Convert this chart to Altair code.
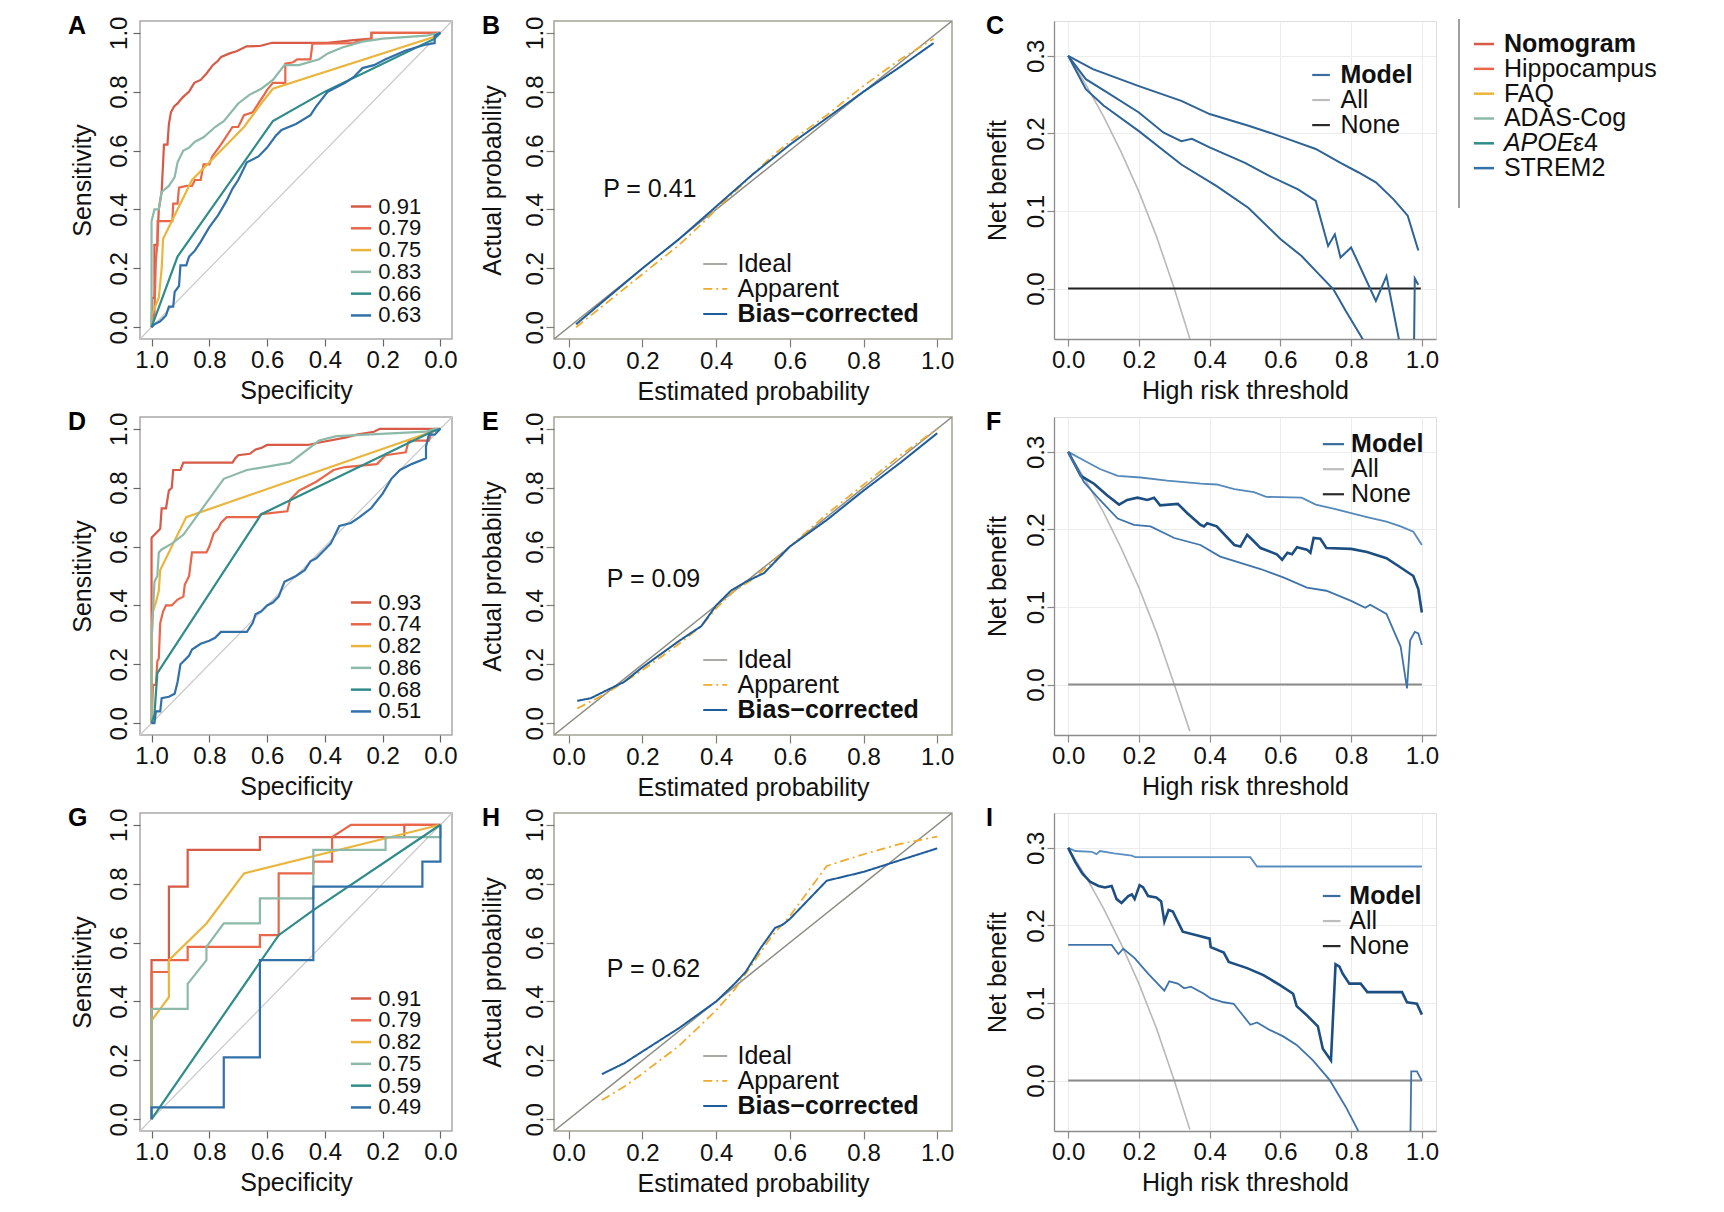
import altair as alt
import pandas as pd

FONT = "Liberation Sans"

# ---------------- shared categories ----------------
MODELS = ["Nomogram", "Hippocampus", "FAQ", "ADAS-Cog", "APOEε4", "STREM2"]
MODEL_COLORS = ["#D65A46", "#E8674A", "#EAB53C", "#8DB9A8", "#2F8C89", "#3270A8"]

AUC_A = ["0.91", "0.79", "0.75", "0.83", "0.66", "0.63"]
AUC_D = ["0.93", "0.74", "0.82", "0.86", "0.68", "0.51"]
AUC_G = ["0.91", "0.79", "0.82", "0.75", "0.59", "0.49"]

# ---------------- ROC curves: (specificity, sensitivity) ----------------
A_NOM = [(1.0, 0.0), (0.998, 0.10), (0.99, 0.10), (0.99, 0.28), (0.98, 0.28), (0.975, 0.40),
         (0.965, 0.46), (0.957, 0.62), (0.945, 0.62), (0.94, 0.69), (0.933, 0.73), (0.922, 0.75),
         (0.91, 0.76), (0.893, 0.78), (0.87, 0.80), (0.852, 0.83), (0.83, 0.84), (0.811, 0.86),
         (0.788, 0.89), (0.77, 0.905), (0.759, 0.918), (0.73, 0.93), (0.706, 0.937), (0.671, 0.954),
         (0.625, 0.955), (0.583, 0.966), (0.391, 0.966), (0.30, 0.975), (0.239, 0.98), (0.239, 1.0),
         (0.0, 1.0)]
A_HIP = [(1.0, 0.0), (0.99, 0.05), (0.985, 0.23), (0.98, 0.28), (0.979, 0.36), (0.928, 0.36),
         (0.925, 0.42), (0.91, 0.42), (0.905, 0.474), (0.88, 0.48), (0.86, 0.48), (0.85, 0.50),
         (0.83, 0.50), (0.82, 0.553), (0.80, 0.553), (0.79, 0.58), (0.76, 0.62), (0.74, 0.65),
         (0.72, 0.68), (0.70, 0.68), (0.68, 0.72), (0.65, 0.73), (0.63, 0.76), (0.61, 0.79),
         (0.60, 0.806), (0.58, 0.83), (0.537, 0.83), (0.537, 0.895), (0.51, 0.90), (0.496, 0.91),
         (0.45, 0.91), (0.443, 0.963), (0.30, 0.965), (0.286, 0.97), (0.239, 0.98), (0.239, 1.0),
         (0.0, 1.0)]
A_FAQ = [(1.0, 0.0), (1.0, 0.04), (0.975, 0.10), (0.965, 0.20), (0.96, 0.30), (0.93, 0.36),
         (0.86, 0.50), (0.80, 0.56), (0.74, 0.62), (0.68, 0.68), (0.62, 0.76), (0.58, 0.81),
         (0.01, 0.99), (0.0, 1.0)]
A_ADAS = [(1.0, 0.0), (1.0, 0.36), (0.99, 0.40), (0.975, 0.40), (0.965, 0.46), (0.94, 0.48),
          (0.92, 0.51), (0.91, 0.56), (0.89, 0.60), (0.87, 0.61), (0.85, 0.63), (0.82, 0.645),
          (0.78, 0.68), (0.75, 0.70), (0.70, 0.76), (0.66, 0.79), (0.62, 0.81), (0.58, 0.84),
          (0.54, 0.89), (0.49, 0.89), (0.42, 0.91), (0.39, 0.93), (0.34, 0.95), (0.27, 0.97),
          (0.20, 0.98), (0.05, 0.99), (0.0, 1.0)]
A_APOE = [(1.0, 0.0), (0.97, 0.08), (0.91, 0.24), (0.58, 0.70), (0.40, 0.80), (0.02, 0.98), (0.0, 1.0)]
A_STREM2 = [(1.0, 0.0), (0.99, 0.01), (0.97, 0.02), (0.95, 0.04), (0.94, 0.07), (0.925, 0.07),
            (0.92, 0.12), (0.905, 0.14), (0.90, 0.21), (0.88, 0.21), (0.87, 0.24), (0.85, 0.26),
            (0.83, 0.29), (0.80, 0.34), (0.77, 0.38), (0.74, 0.43), (0.72, 0.47), (0.70, 0.50),
            (0.67, 0.56), (0.63, 0.58), (0.60, 0.61), (0.57, 0.65), (0.55, 0.67), (0.50, 0.69),
            (0.45, 0.72), (0.43, 0.75), (0.39, 0.80), (0.33, 0.83), (0.30, 0.85), (0.27, 0.88),
            (0.23, 0.89), (0.19, 0.91), (0.12, 0.94), (0.05, 0.96), (0.02, 0.965), (0.02, 0.99),
            (0.0, 1.0)]

D_NOM = [(1.0, 0.0), (1.0, 0.63), (0.99, 0.64), (0.98, 0.65), (0.97, 0.66), (0.965, 0.73),
         (0.95, 0.73), (0.94, 0.79), (0.93, 0.80), (0.925, 0.86), (0.90, 0.86), (0.89, 0.885),
         (0.72, 0.885), (0.71, 0.90), (0.70, 0.91), (0.66, 0.915), (0.64, 0.93), (0.62, 0.935),
         (0.60, 0.945), (0.46, 0.945), (0.41, 0.955), (0.33, 0.97), (0.29, 0.98), (0.23, 0.99),
         (0.21, 1.0), (0.0, 1.0)]
D_HIP = [(1.0, 0.0), (0.995, 0.13), (0.985, 0.13), (0.98, 0.21), (0.975, 0.22), (0.97, 0.34),
         (0.96, 0.38), (0.95, 0.40), (0.93, 0.40), (0.91, 0.42), (0.89, 0.43), (0.885, 0.47),
         (0.87, 0.50), (0.86, 0.58), (0.81, 0.58), (0.80, 0.60), (0.785, 0.645), (0.77, 0.66),
         (0.76, 0.68), (0.74, 0.70), (0.63, 0.70), (0.62, 0.71), (0.53, 0.72), (0.52, 0.76),
         (0.49, 0.79), (0.47, 0.80), (0.43, 0.82), (0.40, 0.84), (0.37, 0.86), (0.33, 0.87),
         (0.22, 0.88), (0.19, 0.91), (0.12, 0.92), (0.11, 0.96), (0.04, 0.96), (0.03, 0.99),
         (0.0, 1.0)]
D_FAQ = [(1.0, 0.0), (1.0, 0.28), (0.995, 0.38), (0.985, 0.41), (0.975, 0.45), (0.97, 0.52),
         (0.88, 0.70), (0.0, 1.0)]
D_ADAS = [(1.0, 0.0), (1.0, 0.28), (0.99, 0.48), (0.98, 0.50), (0.975, 0.58), (0.965, 0.59),
          (0.93, 0.61), (0.89, 0.64), (0.75, 0.83), (0.67, 0.86), (0.52, 0.885), (0.42, 0.96),
          (0.36, 0.975), (0.05, 0.99), (0.02, 1.0), (0.0, 1.0)]
D_APOE = [(1.0, 0.0), (0.99, 0.03), (0.98, 0.17), (0.62, 0.71), (0.03, 0.99), (0.0, 1.0)]
D_STREM2 = [(1.0, 0.0), (0.99, 0.0), (0.985, 0.04), (0.97, 0.04), (0.965, 0.085), (0.94, 0.09),
            (0.92, 0.10), (0.91, 0.14), (0.90, 0.20), (0.885, 0.215), (0.87, 0.23), (0.86, 0.25),
            (0.83, 0.27), (0.80, 0.28), (0.78, 0.29), (0.76, 0.31), (0.67, 0.31), (0.65, 0.34),
            (0.64, 0.37), (0.62, 0.38), (0.60, 0.40), (0.58, 0.41), (0.56, 0.43), (0.54, 0.48),
            (0.50, 0.50), (0.47, 0.52), (0.45, 0.55), (0.43, 0.56), (0.40, 0.59), (0.38, 0.61),
            (0.35, 0.67), (0.31, 0.68), (0.28, 0.70), (0.24, 0.73), (0.20, 0.78), (0.17, 0.83),
            (0.14, 0.86), (0.10, 0.88), (0.05, 0.90), (0.05, 0.94), (0.04, 0.98), (0.02, 0.98),
            (0.01, 0.99), (0.0, 1.0)]

G_NOM = [(1.0, 0.0), (1.0, 0.54), (0.94, 0.54), (0.94, 0.79), (0.875, 0.79), (0.875, 0.915),
         (0.625, 0.915), (0.625, 0.958), (0.125, 0.958), (0.125, 1.0), (0.0, 1.0)]
G_HIP = [(1.0, 0.0), (1.0, 0.50), (0.94, 0.50), (0.94, 0.54), (0.875, 0.54), (0.875, 0.585),
         (0.625, 0.585), (0.625, 0.625), (0.56, 0.625), (0.56, 0.835), (0.44, 0.835), (0.44, 0.875),
         (0.375, 0.875), (0.375, 0.958), (0.31, 1.0), (0.0, 1.0)]
G_FAQ = [(1.0, 0.0), (1.0, 0.335), (0.94, 0.415), (0.94, 0.54), (0.81, 0.665), (0.68, 0.835), (0.0, 1.0)]
G_ADAS = [(1.0, 0.0), (1.0, 0.375), (0.875, 0.375), (0.875, 0.46), (0.81, 0.54), (0.81, 0.585),
          (0.75, 0.665), (0.625, 0.665), (0.625, 0.75), (0.44, 0.75), (0.44, 0.915), (0.19, 0.915),
          (0.19, 0.958), (0.0, 0.958), (0.0, 1.0)]
G_APOE = [(1.0, 0.0), (0.56, 0.625), (0.44, 0.71), (0.0, 1.0)]
G_STREM2 = [(1.0, 0.0), (1.0, 0.04), (0.75, 0.04), (0.75, 0.21), (0.625, 0.21), (0.625, 0.54),
            (0.44, 0.54), (0.44, 0.79), (0.0625, 0.79), (0.0625, 0.875), (0.0, 0.875), (0.0, 1.0)]

# ---------------- calibration curves: (estimated, actual) ----------------
KINDS = ["Ideal", "Apparent", "Bias−corrected"]
KIND_COLORS = ["#8E8E86", "#F0AA2E", "#1F5C9A"]
KIND_DASH = [[1, 0], [9, 4, 2, 4], [1, 0]]
KIND_WIDTH = [1.5, 2.0, 2.3]
IDEAL = [(-0.04, -0.04), (1.04, 1.04)]

B_APP = [(0.02, 0.0), (0.1, 0.08), (0.2, 0.18), (0.3, 0.28), (0.36, 0.35), (0.4, 0.40), (0.5, 0.52),
         (0.56, 0.59), (0.6, 0.63), (0.7, 0.72), (0.8, 0.82), (0.9, 0.91), (0.99, 0.98)]
B_BIAS = [(0.02, 0.01), (0.1, 0.095), (0.2, 0.20), (0.3, 0.30), (0.4, 0.41), (0.5, 0.52), (0.6, 0.62),
          (0.7, 0.71), (0.8, 0.80), (0.9, 0.885), (0.99, 0.965)]
E_APP = [(0.023, 0.05), (0.1, 0.10), (0.2, 0.18), (0.3, 0.27), (0.36, 0.33), (0.4, 0.39), (0.45, 0.45),
         (0.5, 0.49), (0.6, 0.60), (0.7, 0.71), (0.8, 0.81), (0.9, 0.91), (1.0, 1.0)]
E_BIAS = [(0.023, 0.076), (0.06, 0.085), (0.1, 0.11), (0.15, 0.14), (0.2, 0.19), (0.3, 0.28),
          (0.36, 0.33), (0.4, 0.40), (0.44, 0.45), (0.48, 0.48), (0.53, 0.51), (0.6, 0.60),
          (0.7, 0.69), (0.8, 0.79), (0.9, 0.885), (1.0, 0.985)]
H_APP = [(0.09, 0.065), (0.15, 0.11), (0.2, 0.155), (0.3, 0.25), (0.4, 0.37), (0.45, 0.44), (0.5, 0.53),
         (0.55, 0.62), (0.6, 0.69), (0.7, 0.86), (0.8, 0.90), (0.9, 0.935), (1.0, 0.96)]
H_BIAS = [(0.09, 0.153), (0.15, 0.19), (0.2, 0.23), (0.3, 0.31), (0.4, 0.40), (0.45, 0.46), (0.48, 0.50),
          (0.52, 0.58), (0.56, 0.65), (0.58, 0.66), (0.6, 0.68), (0.7, 0.81), (0.8, 0.84), (0.9, 0.88),
          (1.0, 0.92)]
P_B, P_E, P_H = "P = 0.41", "P = 0.09", "P = 0.62"

# ---------------- decision curves: (threshold, net benefit) ----------------
C_TOP = [(0, 0.30), (0.07, 0.283), (0.2, 0.261), (0.32, 0.242), (0.4, 0.225), (0.51, 0.21), (0.57, 0.201),
         (0.62, 0.193), (0.70, 0.18), (0.77, 0.162), (0.82, 0.15), (0.87, 0.137), (0.92, 0.115),
         (0.96, 0.094), (0.99, 0.049)]
C_MID = [(0, 0.30), (0.05, 0.27), (0.11, 0.253), (0.2, 0.227), (0.27, 0.201), (0.32, 0.19), (0.35, 0.193),
         (0.4, 0.182), (0.5, 0.162), (0.57, 0.145), (0.65, 0.128), (0.70, 0.113), (0.735, 0.055),
         (0.754, 0.07), (0.77, 0.04), (0.80, 0.053), (0.87, -0.016), (0.90, 0.016), (0.935, -0.065),
         (0.95, -0.2), (0.975, -0.2), (0.98, 0.013), (0.99, 0.005)]
C_BOT = [(0, 0.30), (0.05, 0.257), (0.1, 0.236), (0.2, 0.203), (0.32, 0.16), (0.42, 0.132), (0.51, 0.104),
         (0.6, 0.064), (0.66, 0.042), (0.71, 0.018), (0.75, -0.001), (0.785, -0.029), (0.83, -0.063),
         (0.85, -0.08)]
C_ALL = [(0, 0.30), (0.05, 0.263), (0.1, 0.222), (0.15, 0.176), (0.2, 0.125), (0.25, 0.067), (0.3, 0.0),
         (0.345, -0.066)]
C_NONE = [(0, 0.0), (0.997, 0.0)]

F_TOP = [(0, 0.30), (0.045, 0.289), (0.09, 0.278), (0.14, 0.269), (0.205, 0.267), (0.28, 0.263),
         (0.375, 0.259), (0.42, 0.258), (0.47, 0.252), (0.525, 0.248), (0.56, 0.242), (0.66, 0.241),
         (0.70, 0.232), (0.75, 0.227), (0.80, 0.221), (0.845, 0.216), (0.90, 0.21), (0.94, 0.204),
         (0.976, 0.197), (1.0, 0.18)]
F_MID = [(0, 0.30), (0.036, 0.269), (0.073, 0.259), (0.11, 0.244), (0.144, 0.232), (0.167, 0.238),
         (0.196, 0.241), (0.224, 0.238), (0.243, 0.241), (0.26, 0.231), (0.31, 0.233), (0.337, 0.221),
         (0.374, 0.206), (0.384, 0.204), (0.393, 0.208), (0.42, 0.204), (0.47, 0.18), (0.487, 0.178),
         (0.506, 0.193), (0.52, 0.187), (0.544, 0.176), (0.59, 0.168), (0.605, 0.161), (0.62, 0.17),
         (0.633, 0.168), (0.647, 0.177), (0.675, 0.174), (0.685, 0.17), (0.694, 0.189), (0.713, 0.188),
         (0.73, 0.176), (0.80, 0.175), (0.845, 0.171), (0.90, 0.163), (0.94, 0.151), (0.976, 0.14),
         (0.99, 0.123), (1.0, 0.093)]
F_BOT = [(0, 0.30), (0.045, 0.261), (0.09, 0.238), (0.14, 0.214), (0.186, 0.206), (0.233, 0.204),
         (0.30, 0.189), (0.374, 0.18), (0.43, 0.165), (0.487, 0.157), (0.544, 0.149), (0.61, 0.138),
         (0.675, 0.125), (0.73, 0.121), (0.80, 0.108), (0.84, 0.099), (0.854, 0.103), (0.90, 0.091),
         (0.92, 0.07), (0.94, 0.049), (0.958, -0.005), (0.967, 0.057), (0.98, 0.068), (0.99, 0.066),
         (1.0, 0.051)]
F_ALL = [(0, 0.30), (0.05, 0.263), (0.1, 0.222), (0.15, 0.176), (0.2, 0.125), (0.25, 0.067), (0.3, 0.0),
         (0.344, -0.06)]
F_NONE = [(0, 0.0), (1.0, 0.0)]

I_TOP = [(0, 0.30), (0.02, 0.296), (0.067, 0.295), (0.08, 0.292), (0.09, 0.296), (0.13, 0.293),
         (0.18, 0.29), (0.19, 0.288), (0.515, 0.288), (0.534, 0.276), (1.0, 0.276)]
I_MID = [(0, 0.30), (0.02, 0.282), (0.04, 0.267), (0.063, 0.256), (0.086, 0.251), (0.104, 0.249),
         (0.123, 0.251), (0.137, 0.234), (0.151, 0.229), (0.17, 0.238), (0.18, 0.24), (0.188, 0.234),
         (0.202, 0.252), (0.212, 0.249), (0.226, 0.238), (0.249, 0.236), (0.263, 0.231), (0.272, 0.205),
         (0.284, 0.22), (0.296, 0.218), (0.31, 0.205), (0.324, 0.192), (0.366, 0.187), (0.40, 0.183),
         (0.403, 0.172), (0.44, 0.165), (0.454, 0.153), (0.506, 0.145), (0.552, 0.136), (0.599, 0.123),
         (0.636, 0.112), (0.646, 0.096), (0.673, 0.085), (0.706, 0.07), (0.72, 0.041), (0.743, 0.026),
         (0.756, 0.15), (0.767, 0.147), (0.776, 0.138), (0.795, 0.125), (0.827, 0.125), (0.846, 0.114),
         (0.944, 0.114), (0.958, 0.101), (0.986, 0.099), (1.0, 0.085)]
I_BOT = [(0, 0.175), (0.123, 0.175), (0.142, 0.163), (0.156, 0.17), (0.188, 0.158), (0.226, 0.138),
         (0.272, 0.116), (0.286, 0.128), (0.31, 0.125), (0.328, 0.119), (0.347, 0.121), (0.384, 0.112),
         (0.403, 0.106), (0.44, 0.101), (0.468, 0.099), (0.496, 0.083), (0.515, 0.072), (0.534, 0.075),
         (0.571, 0.065), (0.608, 0.057), (0.646, 0.046), (0.692, 0.026), (0.739, 0.001), (0.785, -0.034),
         (0.818, -0.063), (0.83, -0.08), (0.9, -0.2), (0.965, -0.2), (0.967, -0.1), (0.97, 0.012),
         (0.986, 0.012), (1.0, 0.0)]
I_ALL = [(0, 0.30), (0.05, 0.263), (0.1, 0.222), (0.15, 0.176), (0.2, 0.125), (0.25, 0.067), (0.3, 0.0),
         (0.344, -0.063)]
I_NONE = [(0, 0.0), (1.0, 0.0)]

DCA_LEG = ["Model", "All", "None"]
DCA_LEG_COLORS = ["#3A6C9E", "#BDBDBD", "#2B2B2B"]

# ---------------- layout ----------------
W_ROC, W_CAL, W_DCA, H = 312, 398, 382, 318
HSPACE, VSPACE = 102, 78
TICKS01 = [0, 0.2, 0.4, 0.6, 0.8, 1.0]


def make_axis(title, values, vertical, tick_color, tick_size, label_pad, title_pad,
              grid=False, domain=False, domain_color="#8C8C8C"):
    kw = dict(values=values, format=".1f", title=title, grid=grid, domain=domain,
              ticks=True, tickSize=tick_size, tickColor=tick_color, tickWidth=1.2,
              labelFont=FONT, labelFontSize=24, labelColor="#111111", labelPadding=label_pad,
              labelOverlap=False, labelFlush=False,
              titleFont=FONT, titleFontSize=25, titleFontWeight="normal", titleColor="#111111",
              titlePadding=title_pad)
    if grid:
        kw["gridColor"] = "#ECECEC"
        kw["gridWidth"] = 1
    if domain:
        kw["domainColor"] = domain_color
        kw["domainWidth"] = 1.3
    if vertical:
        kw["labelAngle"] = 270
        kw["labelAlign"] = "center"
        kw["labelBaseline"] = "alphabetic"
    return alt.Axis(**kw)


def series_df(items, key, xname, yname):
    rows = []
    for k, pts in items:
        for i, (a, b) in enumerate(pts):
            rows.append({key: k, xname: a, yname: b, "idx": i})
    return pd.DataFrame(rows)


def letter_layer(letter, dx):
    return alt.Chart(pd.DataFrame({"t": [letter]})).mark_text(
        align="left", baseline="top", font=FONT, fontSize=25, fontWeight="bold", color="black"
    ).encode(x=alt.value(dx), y=alt.value(-7), text="t:N")


def roc_panel(curves, aucs, letter):
    xs = alt.Scale(domain=[-0.04, 1.04], reverse=True, nice=False, zero=False)
    ys = alt.Scale(domain=[-0.04, 1.04], nice=False, zero=False)
    xa = make_axis("Specificity", TICKS01, False, "#666666", 7, 2, 6)
    ya = make_axis("Sensitivity", TICKS01, True, "#666666", 7, 7, 12)

    def X(f):
        return alt.X(f, scale=xs, axis=xa)

    def Y(f):
        return alt.Y(f, scale=ys, axis=ya)

    col = alt.Color("model:N", scale=alt.Scale(domain=MODELS, range=MODEL_COLORS), legend=None)
    df = series_df(list(zip(MODELS, curves)), "model", "spec", "sens")
    diag = alt.Chart(pd.DataFrame({"spec": [1.04, -0.04], "sens": [-0.04, 1.04]})).mark_line(
        color="#CACACA", strokeWidth=1.2).encode(x=X("spec:Q"), y=Y("sens:Q"))
    lines = alt.Chart(df).mark_line(strokeWidth=2.2).encode(
        x=X("spec:Q"), y=Y("sens:Q"), color=col, order="idx:Q")
    leg = pd.DataFrame({"model": MODELS, "auc": aucs,
                        "sens": [0.41 - 0.074 * i for i in range(len(MODELS))],
                        "spec": 0.31, "spec2": 0.24, "spec_t": 0.215})
    leg_rule = alt.Chart(leg).mark_rule(strokeWidth=2.5).encode(
        x=X("spec:Q"), x2="spec2:Q", y=Y("sens:Q"), color=col)
    leg_text = alt.Chart(leg).mark_text(align="left", baseline="middle", font=FONT, fontSize=22,
                                        color="#111111").encode(
        x=X("spec_t:Q"), y=Y("sens:Q"), text="auc:N")
    return alt.layer(diag, lines, leg_rule, leg_text, letter_layer(letter, -72)).properties(
        width=W_ROC, height=H, view=alt.ViewBackground(stroke="#A9A9A9", strokeWidth=1.5))


def calib_panel(app, bias, ptext, ppos, letter):
    xs = alt.Scale(domain=[-0.04, 1.04], nice=False, zero=False)
    ys = alt.Scale(domain=[-0.04, 1.04], nice=False, zero=False)
    xa = make_axis("Estimated probability", TICKS01, False, "#7E7E76", 8, 2, 6)
    ya = make_axis("Actual probability", TICKS01, True, "#7E7E76", 8, 4, 18)

    def X(f):
        return alt.X(f, scale=xs, axis=xa)

    def Y(f):
        return alt.Y(f, scale=ys, axis=ya)

    col = alt.Color("kind:N", scale=alt.Scale(domain=KINDS, range=KIND_COLORS), legend=None)
    dash = alt.StrokeDash("kind:N", scale=alt.Scale(domain=KINDS, range=KIND_DASH), legend=None)
    width = alt.StrokeWidth("kind:N", scale=alt.Scale(domain=KINDS, range=KIND_WIDTH), legend=None)
    df = series_df([(KINDS[0], IDEAL), (KINDS[1], app), (KINDS[2], bias)], "kind", "est", "act")
    lines = alt.Chart(df).mark_line(clip=True).encode(
        x=X("est:Q"), y=Y("act:Q"), color=col, strokeDash=dash, strokeWidth=width, order="idx:Q")
    leg = pd.DataFrame({"kind": KINDS, "act": [0.215, 0.13, 0.045],
                        "est": 0.365, "est2": 0.43, "est_t": 0.458})
    leg_rule = alt.Chart(leg).mark_rule().encode(
        x=X("est:Q"), x2="est2:Q", y=Y("act:Q"), color=col, strokeDash=dash, strokeWidth=width)
    txt_normal = alt.Chart(leg.iloc[:2]).mark_text(
        align="left", baseline="middle", font=FONT, fontSize=25, color="#111111").encode(
        x=X("est_t:Q"), y=Y("act:Q"), text="kind:N")
    txt_bold = alt.Chart(leg.iloc[2:]).mark_text(
        align="left", baseline="middle", font=FONT, fontSize=25, fontWeight="bold",
        color="#111111").encode(x=X("est_t:Q"), y=Y("act:Q"), text="kind:N")
    p = alt.Chart(pd.DataFrame({"est": [ppos[0]], "act": [ppos[1]], "t": [ptext]})).mark_text(
        align="center", baseline="middle", font=FONT, fontSize=25, color="#111111").encode(
        x=X("est:Q"), y=Y("act:Q"), text="t:N")
    return alt.layer(lines, leg_rule, txt_normal, txt_bold, p, letter_layer(letter, -72)).properties(
        width=W_CAL, height=H, view=alt.ViewBackground(stroke="#A3A394", strokeWidth=1.5))


def dca_panel(model_lines, line_colors, line_widths, all_pts, none_pts, none_color, leg_y0,
              leg_x, letter, with_key=False):
    xs = alt.Scale(domain=[-0.04, 1.04], nice=False, zero=False)
    ys = alt.Scale(domain=[-0.065, 0.345], nice=False, zero=False)
    xa = make_axis("High risk threshold", TICKS01, False, "#8C8C8C", 7, 2, 6, grid=True, domain=True)
    ya = make_axis("Net benefit", [0, 0.1, 0.2, 0.3], True, "#8C8C8C", 7, 4, 14, grid=True, domain=True)

    def X(f):
        return alt.X(f, scale=xs, axis=xa)

    def Y(f):
        return alt.Y(f, scale=ys, axis=ya)

    items = [("all", all_pts), ("none", none_pts)] + [("m%d" % i, pts) for i, pts in enumerate(model_lines)]
    df = series_df(items, "line", "thr", "nb")
    cmap = {"all": "#B9B9B9", "none": none_color}
    wmap = {"all": 1.6, "none": 2.0}
    for i, (c, w) in enumerate(zip(line_colors, line_widths)):
        cmap["m%d" % i] = c
        wmap["m%d" % i] = w
    df["col"] = df["line"].map(cmap)
    df["w"] = df["line"].map(wmap)
    lines = alt.Chart(df).mark_line(clip=True).encode(
        x=X("thr:Q"), y=Y("nb:Q"), detail="line:N",
        color=alt.Color("col:N", scale=None), strokeWidth=alt.StrokeWidth("w:Q", scale=None),
        order="idx:Q")
    leg = pd.DataFrame({"lab": DCA_LEG, "col": DCA_LEG_COLORS,
                        "nb": [leg_y0 - 0.0323 * i for i in range(3)],
                        "thr": leg_x[0], "thr2": leg_x[1], "thr_t": leg_x[2]})
    leg_rule = alt.Chart(leg).mark_rule(strokeWidth=2.2).encode(
        x=X("thr:Q"), x2="thr2:Q", y=Y("nb:Q"), color=alt.Color("col:N", scale=None))
    t_bold = alt.Chart(leg.iloc[:1]).mark_text(
        align="left", baseline="middle", font=FONT, fontSize=25, fontWeight="bold",
        color="#111111").encode(x=X("thr_t:Q"), y=Y("nb:Q"), text="lab:N")
    t_norm = alt.Chart(leg.iloc[1:]).mark_text(
        align="left", baseline="middle", font=FONT, fontSize=25, color="#111111").encode(
        x=X("thr_t:Q"), y=Y("nb:Q"), text="lab:N")
    layers = [lines, leg_rule, t_bold, t_norm, letter_layer(letter, -68)]

    if with_key:
        key = pd.DataFrame({"lab": MODELS, "col": MODEL_COLORS,
                            "nb": [0.3153 - 0.0320 * i for i in range(len(MODELS))],
                            "thr": 1.147, "thr2": 1.204, "thr_t": 1.232})
        bar = alt.Chart(pd.DataFrame({"thr": [1.105], "nb": [0.3476], "nb2": [0.1039]})).mark_rule(
            color="#A0A0A0", strokeWidth=2).encode(x=X("thr:Q"), y=Y("nb:Q"), y2="nb2:Q")
        key_rule = alt.Chart(key).mark_rule(strokeWidth=2.5).encode(
            x=X("thr:Q"), x2="thr2:Q", y=Y("nb:Q"), color=alt.Color("col:N", scale=None))
        base_txt = dict(align="left", baseline="middle", font=FONT, fontSize=25, color="#111111")
        k_bold = alt.Chart(key[key["lab"] == "Nomogram"]).mark_text(fontWeight="bold", **base_txt).encode(
            x=X("thr_t:Q"), y=Y("nb:Q"), text="lab:N")
        plain = key[~key["lab"].isin(["Nomogram", "APOEε4"])]
        k_norm = alt.Chart(plain).mark_text(**base_txt).encode(
            x=X("thr_t:Q"), y=Y("nb:Q"), text="lab:N")
        apoe = key[key["lab"] == "APOEε4"].copy()
        apoe["gene"] = "APOE"
        apoe["allele"] = "ε4"
        k_ital = alt.Chart(apoe).mark_text(fontStyle="italic", **base_txt).encode(
            x=X("thr_t:Q"), y=Y("nb:Q"), text="gene:N")
        k_allele = alt.Chart(apoe).mark_text(dx=69, **base_txt).encode(
            x=X("thr_t:Q"), y=Y("nb:Q"), text="allele:N")
        layers += [bar, key_rule, k_bold, k_norm, k_ital, k_allele]

    return alt.layer(*layers).properties(width=W_DCA, height=H)


roc_A = roc_panel([A_NOM, A_HIP, A_FAQ, A_ADAS, A_APOE, A_STREM2], AUC_A, "A")
roc_D = roc_panel([D_NOM, D_HIP, D_FAQ, D_ADAS, D_APOE, D_STREM2], AUC_D, "D")
roc_G = roc_panel([G_NOM, G_HIP, G_FAQ, G_ADAS, G_APOE, G_STREM2], AUC_G, "G")

cal_B = calib_panel(B_APP, B_BIAS, P_B, (0.22, 0.47), "B")
cal_E = calib_panel(E_APP, E_BIAS, P_E, (0.23, 0.49), "E")
cal_H = calib_panel(H_APP, H_BIAS, P_H, (0.23, 0.51), "H")

dca_C = dca_panel([C_TOP, C_MID, C_BOT], ["#2E6396", "#2E6396", "#2E6396"], [2.0, 2.0, 2.0],
                  C_ALL, C_NONE, "#222222", 0.2754, (0.69, 0.74, 0.77), "C", with_key=True)
dca_F = dca_panel([F_TOP, F_MID, F_BOT], ["#5589BA", "#1D4E82", "#3F74AB"], [1.8, 2.6, 1.8],
                  F_ALL, F_NONE, "#8A8A8A", 0.31, (0.72, 0.78, 0.80), "F")
dca_I = dca_panel([I_TOP, I_MID, I_BOT], ["#5A8EC0", "#1D4E82", "#3F74AB"], [1.8, 2.6, 1.8],
                  I_ALL, I_NONE, "#8A8A8A", 0.238, (0.72, 0.77, 0.795), "I")

chart = alt.concat(
    roc_A, cal_B, dca_C,
    roc_D, cal_E, dca_F,
    roc_G, cal_H, dca_I,
    columns=3, spacing={"row": VSPACE, "column": HSPACE}, bounds="flush", align="each",
).resolve_scale(
    color="independent", strokeDash="independent", strokeWidth="independent",
    x="independent", y="independent",
).properties(
    padding={"left": 59, "top": 5, "right": 5, "bottom": 0}
).configure_view(strokeWidth=0).configure(font=FONT, background="white")

chart.save("out.html", embed_options={"renderer": "svg", "actions": False})
